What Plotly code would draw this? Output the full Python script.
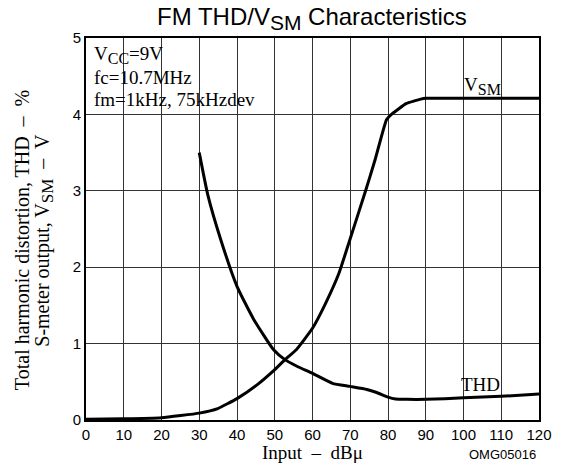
import plotly.graph_objects as go

# THD curve (%)
thd_x = [30, 32.3, 35.7, 40, 44.4, 49.7, 52.7, 56, 60, 65.3, 69.9, 74.4, 77, 80, 82, 85, 90, 100, 110, 120]
thd_y = [3.5, 2.94, 2.36, 1.75, 1.32, 0.92, 0.79, 0.70, 0.61, 0.48, 0.44, 0.40, 0.36, 0.30, 0.275, 0.27, 0.27, 0.29, 0.31, 0.34]

# S-meter output (V)
vsm_x = [0, 10, 20, 30, 34.9, 40, 45.3, 50, 52.7, 55.7, 60, 63.5, 67, 69.9, 74, 76.6, 79.6, 80.9, 84.8, 88.7, 90, 100, 110, 120]
vsm_y = [0.01, 0.015, 0.03, 0.09, 0.15, 0.28, 0.46, 0.66, 0.79, 0.92, 1.2, 1.53, 1.92, 2.36, 2.99, 3.41, 3.93, 4.0, 4.14, 4.2, 4.21, 4.21, 4.21, 4.21]

x_ticks = [0, 10, 20, 30, 40, 50, 60, 70, 80, 90, 100, 110, 120]
y_ticks = [0, 1, 2, 3, 4, 5]

SERIF = "Liberation Serif, Times New Roman, serif"
SANS = "Liberation Sans, Arial, sans-serif"

L, R, T, B = 86, 547, 38, 420
W, H = 564, 470


def px(x):
    return (x - L) / (R - L)


def py(y):
    return (B - y) / (B - T)


def sub(s, size):
    return '<sub><span style="font-size:%dpx">%s</span></sub>' % (size, s)


fig = go.Figure()
fig.add_trace(go.Scatter(x=thd_x, y=thd_y, mode="lines",
                         line=dict(color="black", width=3, shape="spline", smoothing=0.5),
                         showlegend=False, hoverinfo="skip"))
fig.add_trace(go.Scatter(x=vsm_x, y=vsm_y, mode="lines",
                         line=dict(color="black", width=3, shape="spline", smoothing=0.4),
                         showlegend=False, hoverinfo="skip"))

fig.update_layout(
    width=W, height=H,
    margin=dict(l=L, r=W - R, t=T, b=H - B),
    paper_bgcolor="white", plot_bgcolor="white",
    xaxis=dict(range=[0, 120], tickvals=x_ticks, showgrid=True, gridcolor="#333", gridwidth=1,
               zeroline=False, showline=True, linecolor="black", linewidth=2, mirror=True,
               ticks="", tickfont=dict(family=SANS, size=15, color="black")),
    yaxis=dict(range=[0, 5], tickvals=y_ticks, showgrid=True, gridcolor="#333", gridwidth=1,
               zeroline=False, showline=True, linecolor="black", linewidth=2, mirror=True,
               ticks="", tickfont=dict(family=SANS, size=15, color="black")),
)


def a(text, x, y, size, family, xanchor="center", angle=0):
    return dict(text=text, x=px(x), y=py(y), xref="paper", yref="paper",
                xanchor=xanchor, yanchor="middle", textangle=angle,
                showarrow=False, font=dict(family=family, size=size, color="black"))


ann = [a("FM THD/V" + sub("SM", 21) + " Characteristics", 316, 19, 24, SANS)]
info = ["V" + sub("CC", 16) + "=9V", "fc=10.7MHz", "fm=1kHz, 75kHzdev"]
for i, t in enumerate(info):
    ann.append(a(t, 92, 55 + i * 22, 19, SERIF, xanchor="left"))
ann.append(a("V" + sub("SM", 16), 489, 86, 19, SERIF))
ann.append(a("THD", 487, 384, 19, SERIF))
ann.append(a("Input  \u2013  dB\u03bc", 316, 452, 19, SERIF))
ann.append(a("OMG05016", 546, 454, 13, SANS, xanchor="right"))
ann.append(a("Total harmonic distortion, THD  \u2013  %", 21, 240, 20, SERIF, angle=-90))
ann.append(a("S-meter output, V" + sub("SM", 17) + "  \u2013  V", 43, 240, 20, SERIF, angle=-90))
fig.update_layout(annotations=ann)

fig.write_html("out.html", config={"displayModeBar": False},
               post_script="document.body.style.margin='0';")
